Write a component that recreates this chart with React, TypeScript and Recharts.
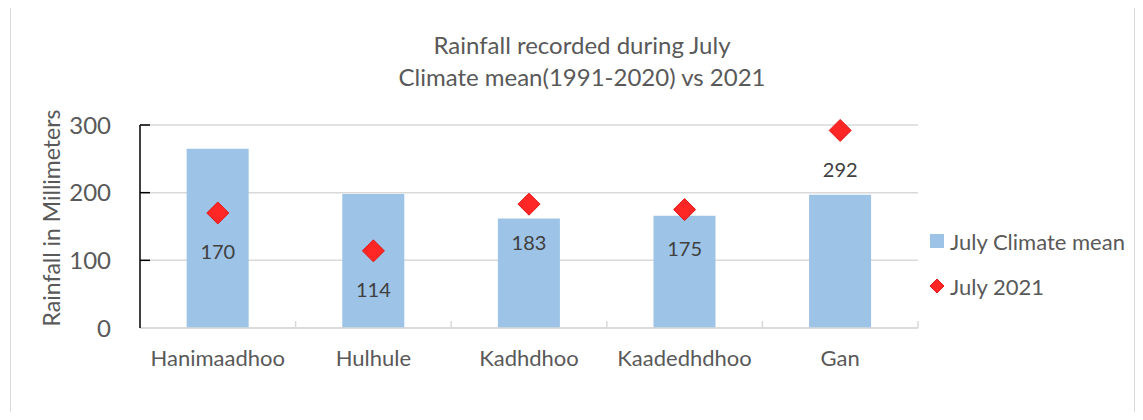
import React from 'react';
import { ComposedChart, Bar, Line, XAxis, YAxis, CartesianGrid, LabelList } from 'recharts';

const categories = ['Hanimaadhoo', 'Hulhule', 'Kadhdhoo', 'Kaadedhdhoo', 'Gan'];
const climateMean = [265, 198, 162, 166, 197];
const july2021 = [170, 114, 183, 175, 292];
const yTicks = [0, 100, 200, 300];
const titleLines = ['Rainfall recorded during July', 'Climate mean(1991-2020) vs 2021'];
const seriesNames = ['July Climate mean', 'July 2021'];
const yAxisTitle = 'Rainfall in Millimeters';

const data = categories.map((name, i) => ({ name, mean: climateMean[i], y2021: july2021[i] }));

const W = 1143;
const H = 420;
const MARGIN = { top: 125, right: 225, bottom: 0, left: 0 };
const Y_AXIS_W = 140;
const X_AXIS_H = 92;
const BAND = (W - MARGIN.right - Y_AXIS_W) / categories.length;
const FONT = 'Lato, "Open Sans", sans-serif';
const TEXT = '#595959';
const BAR = '#9dc3e6';
const RED = '#ff2626';

const YTick = (props: any) => {
  const { x, y, payload } = props;
  return (
    <g>
      {payload.value !== 0 && (
        <line x1={x} x2={x + 10} y1={y} y2={y} stroke="#000" strokeWidth={1.5} />
      )}
      <text x={x - 29} y={y} dy="0.36em" textAnchor="end" fill={TEXT} fontSize={24} fontFamily={FONT}>
        {payload.value}
      </text>
    </g>
  );
};

const XTick = (props: any) => {
  const { x, y, payload } = props;
  return (
    <g>
      <line x1={x + BAND / 2} x2={x + BAND / 2} y1={y} y2={y - 7} stroke="#d9d9d9" strokeWidth={1.5} />
      <text x={x} y={y + 38} textAnchor="middle" fill={TEXT} fontSize={22} fontFamily={FONT}>
        {payload.value}
      </text>
    </g>
  );
};

const DiamondDot = (props: any) => {
  const { cx, cy, index } = props;
  if (cx == null || cy == null) return null;
  const r = 11;
  return (
    <polygon
      key={`d-${index}`}
      points={`${cx},${cy - r} ${cx + r},${cy} ${cx},${cy + r} ${cx - r},${cy}`}
      fill={RED}
      stroke="#e01818"
      strokeWidth={1}
    />
  );
};

const ValueLabel = (props: any) => {
  const { x, y, value } = props;
  return (
    <text x={x} y={y + 39} dy="0.36em" textAnchor="middle" fill="#404040" fontSize={20} fontFamily={FONT}>
      {value}
    </text>
  );
};

export default function App() {
  return (
    <div style={{ position: 'relative', width: W, height: H, margin: -8, background: '#fff', fontFamily: FONT }}>
      <div
        style={{
          position: 'absolute',
          left: 10,
          top: 7,
          width: 1125,
          height: 420,
          border: '1.5px solid #d9d9d9',
          boxSizing: 'border-box',
        }}
      />
      <div
        style={{
          position: 'absolute',
          left: 0,
          width: 1164,
          top: 29,
          textAlign: 'center',
          color: TEXT,
          fontSize: 24,
          lineHeight: '32px',
        }}
      >
        {titleLines.map((t) => (
          <div key={t}>{t}</div>
        ))}
      </div>
      <div
        style={{
          position: 'absolute',
          left: 51,
          top: 218,
          transform: 'translate(-50%, -50%) rotate(-90deg)',
          whiteSpace: 'nowrap',
          color: TEXT,
          fontSize: 23,
        }}
      >
        {yAxisTitle}
      </div>
      <div style={{ position: 'absolute', left: 0, top: 0 }}>
        <ComposedChart width={W} height={H} data={data} margin={MARGIN} barCategoryGap="30%">
          <CartesianGrid vertical={false} stroke="#d9d9d9" strokeWidth={1.5} />
          <XAxis
            dataKey="name"
            height={X_AXIS_H}
            axisLine={{ stroke: '#d9d9d9', strokeWidth: 1.5 }}
            tickLine={false}
            tickSize={0}
            tickMargin={0}
            interval={0}
            tick={XTick}
          />
          <YAxis
            width={Y_AXIS_W}
            domain={[0, 300]}
            ticks={yTicks}
            axisLine={{ stroke: '#000', strokeWidth: 1.5 }}
            tickLine={false}
            tickSize={0}
            tickMargin={0}
            tick={YTick}
          />
          <Bar dataKey="mean" fill={BAR} isAnimationActive={false} />
          <Line
            dataKey="y2021"
            stroke="none"
            dot={DiamondDot}
            activeDot={false}
            isAnimationActive={false}
          >
            <LabelList dataKey="y2021" content={ValueLabel} />
          </Line>
        </ComposedChart>
      </div>
      <div style={{ position: 'absolute', left: 930, top: 227, color: TEXT, fontSize: 22 }}>
        <div style={{ display: 'flex', alignItems: 'center', height: 28 }}>
          <span style={{ display: 'inline-block', width: 14, height: 14, background: BAR, marginRight: 6 }} />
          <span>{seriesNames[0]}</span>
        </div>
        <div style={{ display: 'flex', alignItems: 'center', height: 28, marginTop: 17 }}>
          <svg width={14} height={14} style={{ marginRight: 6 }}>
            <polygon points="7,0 14,7 7,14 0,7" fill={RED} stroke="#e01818" strokeWidth={1} />
          </svg>
          <span>{seriesNames[1]}</span>
        </div>
      </div>
    </div>
  );
}
